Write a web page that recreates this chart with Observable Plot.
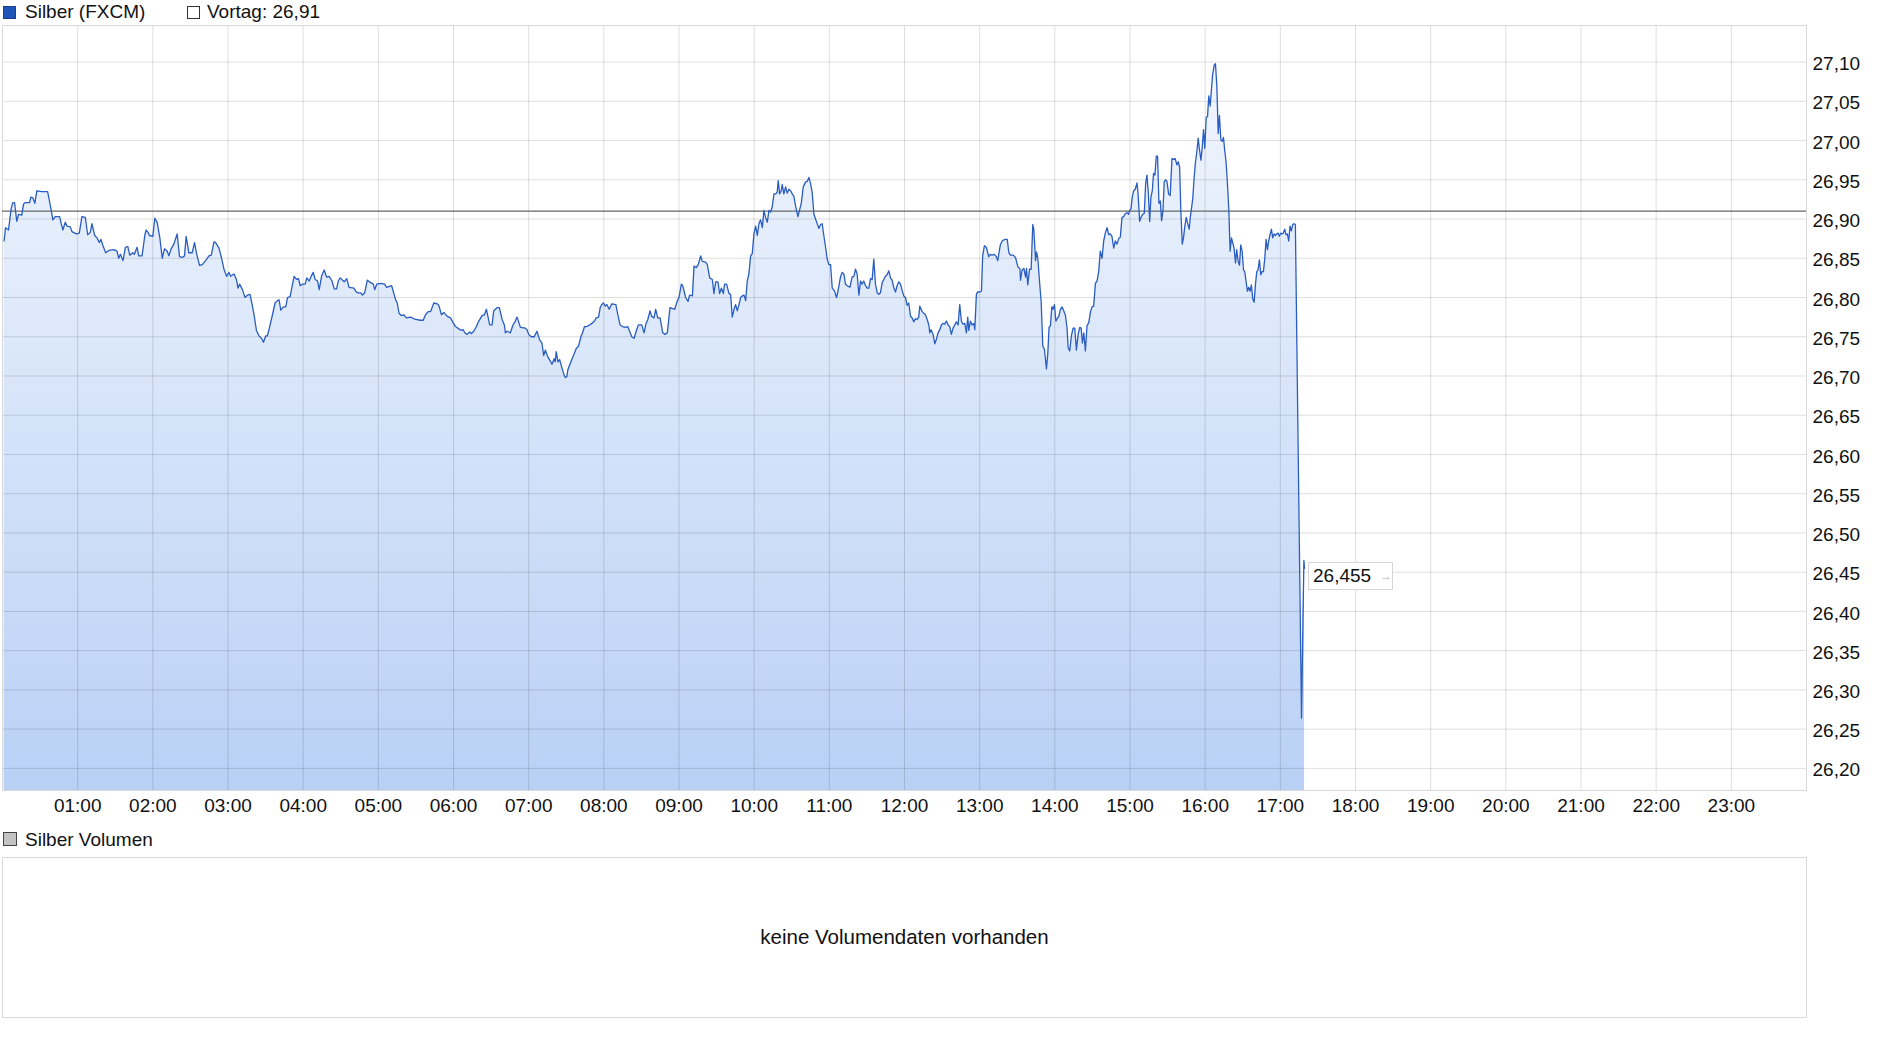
<!DOCTYPE html>
<html>
<head>
<meta charset="utf-8">
<script src="https://cdn.jsdelivr.net/npm/d3@7"></script>
<script src="https://cdn.jsdelivr.net/npm/@observablehq/plot@0.6"></script>
<style>
html, body { margin: 0; padding: 0; background: #fff; }
#wrap { position: relative; width: 1880px; height: 1037px; overflow: hidden;
  font-family: "Liberation Sans", Arial, sans-serif; font-size: 19px; color: #111; }
.sw { position: absolute; box-sizing: border-box; }
.lg { position: absolute; line-height: 20px; white-space: nowrap; }
#main { position: absolute; left: 0; top: 20px; }
#vol { position: absolute; left: 0; top: 855px; }
</style>
</head>
<body>
<div id="wrap">
  <div class="sw" style="left:3px;top:6px;width:13px;height:13px;background:#1f55b8;border:1px solid #163f8f"></div>
  <div class="lg" id="lgMain" style="left:25px;top:2px"></div>
  <div class="sw" style="left:187px;top:6px;width:13px;height:13px;background:#fff;border:1px solid #333"></div>
  <div class="lg" id="lgPrev" style="left:207px;top:2px"></div>
  <div id="main"></div>
  <div class="sw" style="left:3px;top:832px;width:14px;height:14px;background:#c4c4c4;border:1px solid #444"></div>
  <div class="lg" id="lgVol" style="left:25px;top:830px"></div>
  <div id="vol"></div>
</div>
<script>
// ---------- data ----------
const seriesName = "Silber (FXCM)";
const volumeName = "Silber Volumen";
const volumeMessage = "keine Volumendaten vorhanden";
const vortag = 26.91;

const hourTicks = ["01:00","02:00","03:00","04:00","05:00","06:00","07:00","08:00","09:00","10:00","11:00","12:00",
  "13:00","14:00","15:00","16:00","17:00","18:00","19:00","20:00","21:00","22:00","23:00"];

const priceTicks = [26.20,26.25,26.30,26.35,26.40,26.45,26.50,26.55,26.60,26.65,26.70,26.75,26.80,26.85,26.90,
  26.95,27.00,27.05,27.10];

// [minutes after midnight, price]
const silberKurs = [
[1.3,26.872],[2.4,26.889],[4.8,26.886],[6.9,26.913],[8.2,26.921],[9.6,26.921],[11.4,26.897],[12.8,26.906],
[15.4,26.905],[16.8,26.919],[18.1,26.921],[21.6,26.921],[22.6,26.928],[24.2,26.927],[25.8,26.920],[27.4,26.936],
[31.4,26.935],[36.0,26.935],[38.1,26.918],[40.2,26.899],[42.1,26.903],[45.6,26.903],[46.9,26.894],[48.2,26.886],
[50.1,26.896],[51.4,26.891],[54.1,26.890],[55.4,26.884],[58.9,26.881],[61.3,26.882],[63.4,26.903],[66.1,26.902],
[68.0,26.880],[70.1,26.883],[71.4,26.894],[73.6,26.879],[75.4,26.876],[77.3,26.870],[78.6,26.874],[80.2,26.866],
[82.4,26.857],[84.8,26.860],[88.8,26.861],[91.4,26.859],[92.8,26.850],[94.1,26.855],[96.2,26.847],[98.1,26.864],
[100.0,26.865],[101.6,26.854],[104.0,26.857],[105.3,26.855],[107.4,26.864],[108.8,26.853],[111.4,26.853],[113.6,26.879],
[114.6,26.886],[116.2,26.883],[117.3,26.879],[120.0,26.878],[121.6,26.901],[123.4,26.896],[125.6,26.876],[127.5,26.850],
[129.3,26.862],[131.5,26.859],[132.8,26.853],[134.6,26.862],[136.8,26.868],[139.4,26.881],[141.3,26.852],[143.4,26.851],
[145.3,26.853],[146.6,26.878],[148.8,26.857],[151.4,26.857],[153.3,26.870],[154.9,26.856],[157.3,26.841],[159.5,26.842],
[162.1,26.847],[164.8,26.853],[166.7,26.854],[168.8,26.871],[170.1,26.870],[172.8,26.863],[174.7,26.851],[176.8,26.836],
[178.9,26.827],[180.8,26.832],[182.1,26.827],[184.8,26.830],[186.7,26.823],[188.0,26.812],[189.3,26.817],[191.5,26.810],
[193.6,26.800],[195.5,26.803],[197.6,26.804],[199.5,26.789],[200.8,26.778],[202.7,26.758],[204.8,26.751],[206.7,26.748],
[208.3,26.743],[210.1,26.751],[211.5,26.751],[213.6,26.765],[215.5,26.778],[217.6,26.793],[219.5,26.796],[220.8,26.797],
[222.1,26.784],[224.3,26.788],[226.1,26.788],[227.5,26.800],[229.6,26.801],[230.9,26.812],[232.8,26.827],[234.7,26.823],
[236.3,26.824],[237.6,26.815],[239.5,26.817],[241.6,26.817],[242.9,26.825],[244.8,26.821],[246.7,26.828],[248.0,26.832],
[249.6,26.823],[251.5,26.821],[252.8,26.810],[254.7,26.827],[256.8,26.835],[258.7,26.826],[260.8,26.827],[263.0,26.821],
[264.8,26.811],[266.7,26.811],[268.0,26.821],[269.6,26.825],
[272.7,26.820],[274.8,26.824],[276.6,26.813],[280.6,26.812],[281.9,26.808],[283.3,26.806],[285.9,26.806],[287.3,26.803],
[289.1,26.806],[291.2,26.822],[293.9,26.819],[296.0,26.817],[297.1,26.810],[298.7,26.817],[301.9,26.818],[305.0,26.817],
[306.6,26.813],[310.6,26.815],[311.9,26.808],[313.8,26.797],[315.1,26.793],[316.5,26.780],[318.3,26.777],[320.4,26.778],
[322.3,26.774],[325.8,26.775],[329.7,26.772],[333.7,26.771],[335.8,26.771],[337.7,26.778],[339.8,26.782],[341.7,26.782],
[344.3,26.793],[347.0,26.792],[348.3,26.790],[350.4,26.778],[352.3,26.781],[355.0,26.776],[357.6,26.774],[359.7,26.768],
[361.6,26.763],[364.3,26.760],[366.4,26.758],[367.7,26.759],[369.0,26.755],[370.9,26.753],[373.0,26.756],[374.3,26.754],
[376.2,26.757],[378.3,26.763],[380.2,26.770],[382.8,26.777],[384.7,26.778],[386.3,26.785],[388.9,26.765],[390.8,26.765],
[392.1,26.783],[394.8,26.787],[396.6,26.787],[398.8,26.772],[400.6,26.765],[401.4,26.755],[402.7,26.757],[405.4,26.755],
[407.5,26.765],[409.4,26.770],[410.7,26.775],[412.0,26.769],[413.4,26.762],[417.4,26.761],[418.7,26.759],[420.0,26.753],
[422.1,26.750],[424.5,26.750],[426.6,26.757],[428.8,26.746],[430.6,26.742],[432.0,26.726],[433.3,26.733],[435.1,26.725],
[437.3,26.719],[438.6,26.715],[440.4,26.722],[441.2,26.718],[442.0,26.731],[443.4,26.718],[444.7,26.721],[446.6,26.710],
[447.9,26.703],[449.2,26.698],[450.5,26.699],[451.3,26.708],[453.7,26.718],[455.8,26.726],[458.0,26.735],[459.8,26.738],
[461.7,26.750],[463.0,26.755],[464.6,26.763],[466.5,26.763],[468.6,26.765],[470.5,26.767],[472.6,26.770],[473.9,26.774],
[475.8,26.775],[477.1,26.787],[478.4,26.791],[479.7,26.793],[481.1,26.789],[482.4,26.791],[484.3,26.785],[486.4,26.792],
[489.6,26.791],[491.2,26.778],[493.0,26.765],[494.9,26.763],[497.0,26.762],[499.1,26.763],[502.3,26.750],[504.2,26.748],
[505.8,26.757],[507.6,26.765],[510.3,26.765],[512.1,26.755],[513.7,26.767],[515.1,26.772],[516.9,26.783],[518.2,26.776],
[520.1,26.774],[521.4,26.785],[523.0,26.774],[524.9,26.774],[527.0,26.755],[528.9,26.753],[530.7,26.755],[532.8,26.787],
[536.6,26.785],[538.7,26.796],[540.0,26.800],[541.9,26.817],[543.0,26.815],[545.3,26.800],[547.2,26.795],[548.5,26.803],
[550.7,26.802],[552.0,26.840],[553.8,26.838],[555.4,26.842],[557.3,26.853],[558.6,26.846],[561.3,26.845],[562.6,26.842],
[564.5,26.825],[566.6,26.823],[567.9,26.805],[569.3,26.820],[571.1,26.820],[572.4,26.805],[573.8,26.812],[575.4,26.805],
[576.4,26.817],[578.0,26.817],[579.9,26.805],[581.2,26.804],[582.5,26.775],[583.9,26.785],[585.2,26.791],[586.5,26.783],
[587.9,26.791],[589.2,26.800],[590.5,26.802],[591.9,26.803],[593.2,26.796],[594.5,26.821],[595.8,26.830],[597.2,26.853],
[598.5,26.856],[599.8,26.881],[601.2,26.891],[602.5,26.879],[603.8,26.894],[605.1,26.899],[606.5,26.889],[607.8,26.911],
[609.1,26.902],[610.5,26.896],[611.8,26.911],[613.1,26.909],[614.4,26.915],[615.8,26.932],[617.1,26.932],[618.4,26.934],
[619.2,26.949],[620.3,26.932],[621.6,26.936],[622.4,26.944],[623.7,26.932],[625.1,26.941],[626.4,26.933],[627.7,26.938],
[629.1,26.936],[630.4,26.932],[631.7,26.929],[633.0,26.917],[634.9,26.903],[636.5,26.913],[637.6,26.920],[639.2,26.941],
[641.0,26.947],[642.4,26.948],[643.7,26.953],[645.0,26.945],[646.3,26.934],[647.7,26.906],[649.0,26.900],[650.3,26.894],
[651.7,26.888],[653.0,26.893],[654.3,26.894],[655.6,26.879],[657.0,26.864],[658.3,26.849],[659.6,26.842],[661.0,26.842],
[662.3,26.812],[664.2,26.808],[665.7,26.800],[666.8,26.807],[668.9,26.826],[670.3,26.832],[671.6,26.830],[672.9,26.817],
[674.3,26.815],[676.4,26.813],[678.2,26.826],[679.6,26.827],[680.9,26.836],[682.2,26.830],[683.6,26.803],[684.9,26.821],
[686.2,26.817],[687.5,26.821],[688.9,26.815],[690.2,26.812],[691.5,26.812],[692.9,26.824],[694.2,26.823],[695.5,26.849],
[696.8,26.817],[698.2,26.806],[699.5,26.804],[700.8,26.806],[702.2,26.819],[703.5,26.823],[704.8,26.827],[706.1,26.829],
[707.5,26.834],[708.8,26.825],[710.1,26.822],[711.5,26.812],[712.8,26.807],[714.1,26.815],[715.5,26.820],[716.8,26.817],
[718.1,26.809],[719.4,26.802],[720.8,26.800],[722.1,26.790],[723.4,26.793],[724.8,26.776],[726.1,26.774],[727.4,26.769],
[728.7,26.773],[730.1,26.772],[731.4,26.775],[732.2,26.789],[734.1,26.782],[735.4,26.780],[736.7,26.778],[738.1,26.772],
[739.4,26.765],[740.2,26.755],[741.2,26.759],[742.8,26.753],[744.2,26.741],[745.5,26.747],[746.8,26.755],[748.2,26.759],
[749.5,26.765],[750.8,26.767],[752.1,26.766],[753.5,26.770],[754.8,26.765],[756.1,26.763],[757.4,26.753],[758.8,26.761],
[760.1,26.765],[761.4,26.769],[762.8,26.765],[764.1,26.791],[765.4,26.770],[766.7,26.766],[768.1,26.767],[769.4,26.755],
[770.5,26.775],[771.3,26.758],[772.6,26.770],[773.9,26.765],[775.3,26.767],[776.1,26.759],[777.4,26.804],[778.4,26.807],
[780.0,26.807],[781.4,26.808],[782.4,26.853],[783.8,26.866],[785.3,26.864],[787.2,26.852],[788.5,26.855],[789.9,26.854],
[791.7,26.855],[793.3,26.852],[794.4,26.847],[796.5,26.867],
[798.0,26.872],[799.9,26.874],[802.0,26.874],[803.3,26.857],[804.6,26.854],[806.8,26.854],[808.6,26.851],[810.5,26.839],
[812.1,26.837],[812.6,26.822],[813.9,26.835],[815.3,26.837],[816.6,26.826],[817.4,26.837],[818.4,26.816],[819.8,26.836],
[821.1,26.836],[822.4,26.893],[823.2,26.887],[824.6,26.847],[825.4,26.858],[826.4,26.850],[828.0,26.816],[829.1,26.794],
[830.4,26.738],[831.7,26.734],[833.3,26.709],[834.4,26.729],[835.4,26.762],[836.5,26.764],[837.6,26.788],[838.6,26.785],
[839.7,26.791],[840.8,26.770],[841.9,26.773],[843.2,26.776],[844.5,26.785],[845.8,26.788],[847.1,26.783],[848.5,26.777],
[849.8,26.760],[850.6,26.736],[851.9,26.732],[853.2,26.751],[854.6,26.761],[855.9,26.761],[857.2,26.733],[858.6,26.753],
[859.9,26.762],[861.0,26.761],[862.0,26.742],[863.1,26.755],[864.4,26.732],[865.7,26.764],[867.1,26.768],[868.4,26.781],
[869.7,26.788],[871.0,26.789],[872.4,26.818],[873.7,26.821],[875.0,26.833],[876.3,26.859],[877.7,26.850],[879.0,26.872],
[880.3,26.882],[881.7,26.889],[883.0,26.880],[884.3,26.881],[885.6,26.878],[887.0,26.863],[888.3,26.872],[889.6,26.868],
[891.0,26.875],[892.3,26.877],[893.6,26.902],[895.0,26.903],[896.3,26.907],[897.6,26.908],[898.9,26.906],[899.7,26.911],
[900.8,26.913],[901.8,26.928],[902.9,26.936],[904.2,26.938],[905.6,26.946],[906.4,26.933],[907.7,26.897],[908.7,26.902],
[910.1,26.906],[911.4,26.907],[912.5,26.945],[913.5,26.956],[914.6,26.934],[915.7,26.897],[916.7,26.928],[917.8,26.936],
[918.8,26.958],[919.9,26.956],[921.0,26.980],[922.0,26.980],[923.1,26.920],[924.2,26.923],[925.2,26.898],[926.3,26.910],
[927.3,26.947],[928.4,26.950],[929.5,26.948],[930.8,26.932],[932.1,26.930],[933.5,26.977],[934.8,26.976],[936.1,26.977],
[937.4,26.969],[938.5,26.973],[939.6,26.966],[940.6,26.910],[941.7,26.868],[942.7,26.876],[943.8,26.891],[944.9,26.902],
[945.9,26.895],[947.3,26.887],[948.1,26.902],[949.4,26.917],[950.2,26.928],[951.2,26.953],[952.3,26.973],[953.4,26.986],
[954.4,27.003],[955.5,26.988],[956.6,26.975],[957.6,26.990],[958.7,27.014],[959.7,26.990],[960.8,27.029],[961.9,27.031],
[962.9,27.057],[964.0,27.044],[964.8,27.061],[965.9,27.083],[967.2,27.096],[968.2,27.098],[969.3,27.070],[970.4,27.009],
[971.4,27.032],[972.5,27.001],[973.6,26.999],[974.6,27.004],[975.7,26.986],[976.7,26.972],[977.8,26.945],[978.9,26.911],
[979.9,26.859],[981.0,26.876],[982.1,26.869],[983.1,26.863],[984.2,26.844],[985.2,26.861],[986.3,26.846],[987.4,26.841],
[988.4,26.867],[989.5,26.859],[990.6,26.835],[991.6,26.833],[992.7,26.820],[993.7,26.808],[994.8,26.813],[995.9,26.808],
[996.9,26.816],[998.0,26.798],[999.1,26.794],[1000.1,26.816],[1001.2,26.833],[1002.2,26.835],[1003.3,26.848],[1004.4,26.829],
[1005.4,26.833],[1006.5,26.833],[1007.6,26.850],[1008.6,26.874],[1009.7,26.861],[1010.7,26.872],[1011.8,26.880],[1012.9,26.887],
[1013.9,26.876],[1015.0,26.881],[1016.1,26.879],[1017.1,26.881],[1018.2,26.882],[1019.2,26.878],[1020.3,26.882],[1021.4,26.881],
[1022.4,26.882],[1023.5,26.887],[1024.5,26.880],[1025.6,26.881],[1026.7,26.872],[1027.7,26.891],[1028.8,26.885],[1029.9,26.893],
[1030.9,26.894],[1032.0,26.893],
[1036.9,26.264],[1038.8,26.465],[1039.3,26.455]
];

// ---------- helpers ----------
const toMin = s => +s.slice(0, 2) * 60 + +s.slice(3, 5);
const fmtDE = (v, d) => v.toFixed(d).replace(".", ",");
const data = silberKurs.map(([t, v]) => ({t, v}));
const last = data[data.length - 1];
const yDomain = [26.1718, 27.1466];
const FONT = '"Liberation Sans", Arial, sans-serif';

document.getElementById("lgMain").textContent = seriesName;
document.getElementById("lgPrev").textContent = "Vortag: " + fmtDE(vortag, 2);
document.getElementById("lgVol").textContent = volumeName;

const NS = "http://www.w3.org/2000/svg";
function el(tag, attrs, text) {
  const e = document.createElementNS(NS, tag);
  for (const k in attrs) e.setAttribute(k, attrs[k]);
  if (text != null) e.textContent = text;
  return e;
}

// end-of-series price box, placed through the plot's own scales
function endLabel(index, scales) {
  const x = Math.round(scales.x(last.t));
  const y = Math.round(scales.y(last.v));
  const g = el("g", {"text-anchor": "start"});
  g.appendChild(el("rect", {x: x + 4.5, y: y - 5.5, width: 84, height: 27, fill: "#fff", stroke: "#d6d6d6"}));
  g.appendChild(el("text", {x: x + 9, y: y + 14, "font-size": 19, fill: "#111", "text-anchor": "start"}, fmtDE(last.v, 3)));
  g.appendChild(el("text", {x: x + 76, y: y + 12, "font-size": 12, fill: "#b5b5b5", "text-anchor": "start"}, "\u2192"));
  return g;
}

const mainPlot = Plot.plot({
  width: 1880,
  height: 805,
  marginTop: 5,
  marginBottom: 35,
  marginLeft: 2,
  marginRight: 74,
  style: {fontFamily: FONT, fontSize: "19px", color: "#111", background: "transparent"},
  x: {
    domain: [0, 1440],
    ticks: hourTicks.map(toMin),
    tickFormat: m => hourTicks.find(s => toMin(s) === m),
    tickSize: 0,
    tickPadding: 8,
    label: null
  },
  y: {
    domain: yDomain,
    axis: "right",
    ticks: priceTicks,
    tickFormat: v => fmtDE(v, 2),
    tickSize: 0,
    tickPadding: 6,
    label: null
  },
  marks: [
    Plot.areaY(data, {x: "t", y1: yDomain[0], y2: "v", fill: "url(#silverFill)", clip: true}),
    Plot.ruleX(hourTicks.map(toMin), {stroke: "#000", strokeOpacity: 0.13}),
    Plot.ruleY(priceTicks, {stroke: "#000", strokeOpacity: 0.13}),
    Plot.frame({stroke: "#d9d9d9"}),
    Plot.ruleY([vortag], {stroke: "#666", strokeWidth: 1.2}),
    Plot.line(data, {x: "t", y: "v", stroke: "#2a5dc2", strokeWidth: 1.3, clip: true}),
    endLabel
  ]
});

const svgMain = mainPlot.tagName.toLowerCase() === "svg" ? mainPlot : mainPlot.querySelector("svg");
const defs = el("defs", {});
const grad = el("linearGradient", {id: "silverFill", gradientUnits: "userSpaceOnUse", x1: 0, y1: 5, x2: 0, y2: 770});
grad.appendChild(el("stop", {offset: "0", "stop-color": "#f4f8fe"}));
grad.appendChild(el("stop", {offset: "1", "stop-color": "#b9d0f5"}));
defs.appendChild(grad);
svgMain.insertBefore(defs, svgMain.firstChild);
// nudge the right-hand price labels down slightly so they sit centred on their grid lines
svgMain.querySelectorAll("g[aria-label='y-axis tick label']").forEach(g => {
  g.setAttribute("transform", ((g.getAttribute("transform") || "") + " translate(0,2)").trim());
});
document.getElementById("main").appendChild(mainPlot);

const volPlot = Plot.plot({
  width: 1880,
  height: 172,
  marginTop: 2,
  marginBottom: 10,
  marginLeft: 2,
  marginRight: 74,
  style: {fontFamily: FONT, fontSize: "19px", color: "#111", background: "transparent"},
  marks: [
    Plot.frame({stroke: "#d9d9d9"}),
    Plot.text([volumeMessage], {text: d => d, frameAnchor: "middle", fontSize: 20.5, fill: "#111"})
  ]
});
document.getElementById("vol").appendChild(volPlot);
</script>
</body>
</html>
